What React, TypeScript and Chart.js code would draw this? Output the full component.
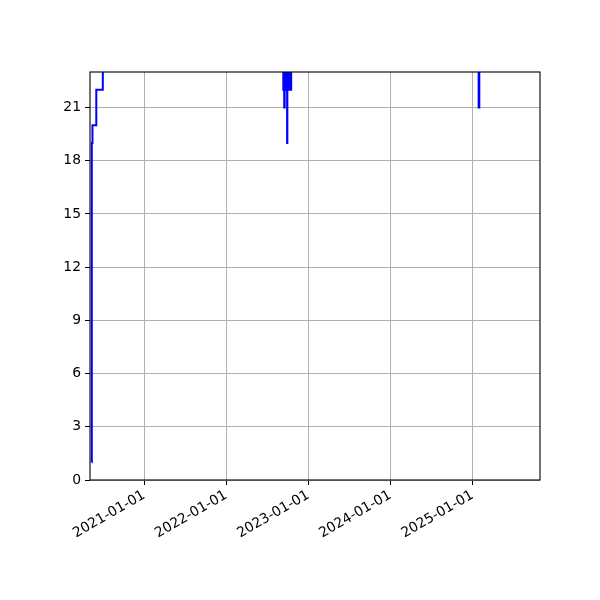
import { useRef, useEffect } from "react"
import { Chart, registerables } from "chart.js"

Chart.register(...registerables)

// step series, values above 23 run off the top of the plot
const stepDates = [
  "2020-05-12", "2020-05-13", "2020-05-16", "2020-06-02", "2020-07-01",
  "2022-09-12", "2022-09-14", "2022-09-16", "2022-09-18", "2022-09-20",
  "2022-09-22", "2022-09-24", "2022-09-26", "2022-09-29", "2022-09-30",
  "2022-10-03", "2022-10-05", "2022-10-08", "2022-10-17",
  "2025-01-28", "2025-01-31", "2025-09-01",
]
const stepValues = [
  1, 19, 20, 22, 25,
  22, 25, 21, 25, 22,
  25, 22, 25, 19, 25,
  22, 25, 22, 25,
  21, 25, 25,
]

const xRange = ["2020-05-05", "2025-10-28"]
const xTickDates = ["2021-01-01", "2022-01-01", "2023-01-01", "2024-01-01", "2025-01-01"]
const yTicks = [0, 3, 6, 9, 12, 15, 18, 21]
const yMax = 23

const FONT = { family: "'DejaVu Sans', sans-serif", size: 13.9 }

const framePlugin = {
  id: "frame",
  afterDraw(chart: Chart) {
    const { ctx, chartArea } = chart
    ctx.save()
    ctx.strokeStyle = "#000"
    ctx.lineWidth = 1.1
    ctx.strokeRect(chartArea.left, chartArea.top, chartArea.right - chartArea.left, chartArea.bottom - chartArea.top)
    ctx.restore()
  },
}

export default function App() {
  const canvasRef = useRef<HTMLCanvasElement>(null)
  const chartRef = useRef<Chart | null>(null)

  useEffect(() => {
    if (!canvasRef.current) return
    if (chartRef.current) chartRef.current.destroy()

    const points = stepDates.map((d, i) => ({ x: Date.parse(d), y: stepValues[i] }))
    const xTicks = xTickDates.map((d) => Date.parse(d))

    chartRef.current = new Chart(canvasRef.current, {
      type: "line",
      data: {
        datasets: [
          {
            data: points,
            borderColor: "#0000ff",
            borderWidth: 2,
            // value holds until the next date (steps-post)
            stepped: "before",
            pointRadius: 0,
            fill: false,
            clip: 0,
          },
        ],
      },
      options: {
        responsive: false,
        animation: false,
        layout: { padding: { top: 72, right: 60, left: 0, bottom: 0 } },
        plugins: {
          legend: { display: false },
          tooltip: { enabled: false },
        },
        scales: {
          x: {
            type: "linear",
            min: Date.parse(xRange[0]),
            max: Date.parse(xRange[1]),
            afterBuildTicks: (scale: any) => {
              scale.ticks = xTicks.map((v) => ({ value: v }))
            },
            afterFit: (scale: any) => {
              scale.height = 120
            },
            border: { display: false },
            grid: { color: "#b0b0b0", lineWidth: 1, tickColor: "#000", tickLength: 5 },
            ticks: {
              autoSkip: false,
              minRotation: 30,
              maxRotation: 30,
              color: "#000",
              font: FONT,
              padding: 2,
              callback: (v: any) => new Date(v).toISOString().slice(0, 10),
            },
          },
          y: {
            type: "linear",
            min: 0,
            max: yMax,
            afterBuildTicks: (scale: any) => {
              scale.ticks = yTicks.map((v) => ({ value: v }))
            },
            afterFit: (scale: any) => {
              scale.width = 90
            },
            border: { display: false },
            grid: { color: "#b0b0b0", lineWidth: 1, tickColor: "#000", tickLength: 5 },
            ticks: { color: "#000", font: FONT, padding: 4 },
          },
        },
      },
      plugins: [framePlugin],
    })

    return () => {
      if (chartRef.current) chartRef.current.destroy()
    }
  }, [])

  return (
    <div style={{ position: "fixed", left: 0, top: 0, width: 600, height: 600, background: "#fff" }}>
      <canvas ref={canvasRef} width={600} height={600} />
    </div>
  )
}
